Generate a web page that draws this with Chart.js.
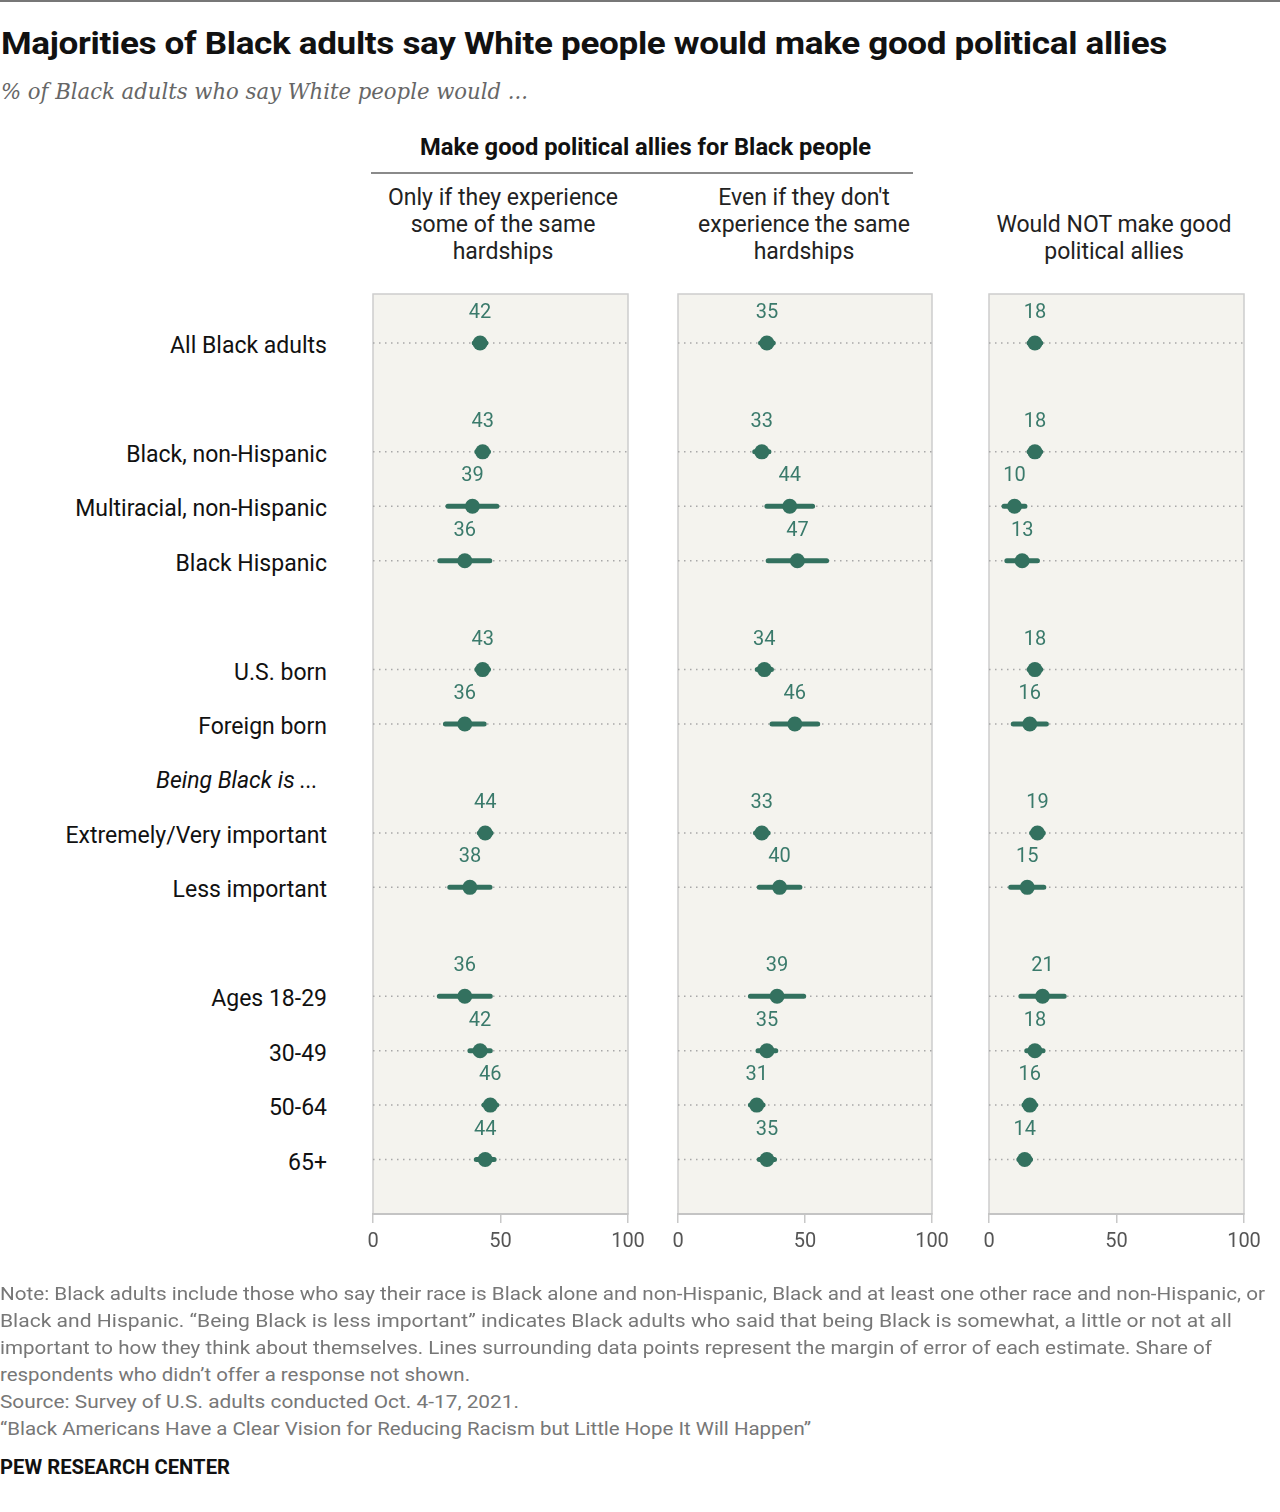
<!DOCTYPE html>
<html>
<head>
<meta charset="utf-8">
<script src="https://cdn.jsdelivr.net/npm/chart.js@4.4.1/dist/chart.umd.min.js"></script>
<style>
  body { margin: 0; width: 1280px; height: 1512px; background: #fff; position: relative; overflow: hidden;
         font-family: Roboto, "Noto Sans", sans-serif; color: #111; }
  .t { position: absolute; white-space: nowrap; transform-origin: left center; }
  .c { position: absolute; text-align: center; font-size: 23px; line-height: 27px; color: #222; }
  .row { position: absolute; right: 953px; font-size: 23px; line-height: 26px; white-space: nowrap; color: #111; }
  canvas { position: absolute; }
  .note { font-size: 18px; color: #777; line-height: 27px; }
</style>
</head>
<body>
<div style="position:absolute;left:0;top:0;width:1280px;height:2px;background:#777"></div>
<div class="t" id="title" data-w="1166" style="left:1px;top:25px;font-size:31px;font-weight:700;letter-spacing:-0.3px">Majorities of Black adults say White people would make good political allies</div>
<div class="t" id="sub" data-w="527" style="left:1px;top:78px;font-size:23px;font-style:italic;color:#666;font-family:'DejaVu Serif',serif">% of Black adults who say White people would ...</div>

<div class="t" data-w="451" style="left:420px;top:134px;font-size:23px;line-height:27px;font-weight:700;color:#111">Make good political allies for Black people</div>
<div style="position:absolute;left:371px;top:172px;width:542px;height:2px;background:#8a8a8a"></div>
<div class="c" style="left:353px;width:300px;top:184px">Only if they experience<br>some of the same<br>hardships</div>
<div class="c" style="left:654px;width:300px;top:184px">Even if they don't<br>experience the same<br>hardships</div>
<div class="c" style="left:964px;width:300px;top:211px">Would NOT make good<br>political allies</div>

<canvas id="p1" width="305" height="1000"></canvas>
<canvas id="p2" width="304" height="1000"></canvas>
<canvas id="p3" width="305" height="1000"></canvas>

<div class="t note" data-w="1265" style="left:0;top:1280px">Note: Black adults include those who say their race is Black alone and non-Hispanic, Black and at least one other race and non-Hispanic, or</div>
<div class="t note" data-w="1232" style="left:0;top:1307px">Black and Hispanic. “Being Black is less important” indicates Black adults who said that being Black is somewhat, a little or not at all</div>
<div class="t note" data-w="1212" style="left:0;top:1334px">important to how they think about themselves. Lines surrounding data points represent the margin of error of each estimate. Share of</div>
<div class="t note" data-w="470" style="left:0;top:1361px">respondents who didn’t offer a response not shown.</div>
<div class="t note" data-w="519" style="left:0;top:1388px">Source: Survey of U.S. adults conducted Oct. 4-17, 2021.</div>
<div class="t note" data-w="811" style="left:0;top:1415px">“Black Americans Have a Clear Vision for Reducing Racism but Little Hope It Will Happen”</div>
<div class="t" data-w="230" style="left:0;top:1455px;font-size:20px;font-weight:700;line-height:24px">PEW RESEARCH CENTER</div>

<script>
// rows, top to bottom ('' = spacer row)
const rowLabels = ['All Black adults', '', 'Black, non-Hispanic', 'Multiracial, non-Hispanic', 'Black Hispanic', '',
  'U.S. born', 'Foreign born', 'Being Black is ...', 'Extremely/Very important', 'Less important', '',
  'Ages 18-29', '30-49', '50-64', '65+'];

const onlyIfSame = [42, null, 43, 39, 36, null, 43, 36, null, 44, 38, null, 36, 42, 46, 44];
const evenIfNot  = [35, null, 33, 44, 47, null, 34, 46, null, 33, 40, null, 39, 35, 31, 35];
const wouldNot   = [18, null, 18, 10, 13, null, 18, 16, null, 19, 15, null, 21, 18, 16, 14];

// margins of error
const moeOnly = [2.3, null, 2.3, 9.6, 9.8, null, 2.3, 7.6, null, 2.3, 7.9, null, 10, 4, 2.5, 3.5];
const moeEven = [2.5, null, 2.8, 9, 11.5, null, 2.8, 9, null, 2.5, 8, null, 10.5, 3.5, 2.5, 3];
const moeNot  = [2.3, null, 2.3, 4.1, 6, null, 2.3, 6.5, null, 2.3, 6.5, null, 8.5, 3.2, 2.3, 2.3];

const xTicks = [0, 50, 100];

const dotColor = '#33715f';
const labelColor = '#3a7a6b';

const panelBg = {
  id: 'panelBg',
  beforeDraw(chart) {
    const { ctx, chartArea: a } = chart;
    ctx.save();
    ctx.fillStyle = '#f4f3ee';
    ctx.fillRect(a.left, a.top, a.width, a.height);
    ctx.strokeStyle = '#cdcdcd';
    ctx.lineWidth = 1.5;
    ctx.strokeRect(a.left, a.top, a.width, a.height);
    ctx.restore();
  }
};

const valueLabels = {
  id: 'valueLabels',
  afterDatasetsDraw(chart) {
    const { ctx } = chart;
    const meta = chart.getDatasetMeta(0);
    const data = chart.data.datasets[0].data;
    ctx.save();
    ctx.font = '20px Roboto';
    ctx.fillStyle = labelColor;
    ctx.textAlign = 'center';
    ctx.textBaseline = 'middle';
    meta.data.forEach((pt, i) => ctx.fillText(String(data[i].x), pt.x, pt.y - 30));
    ctx.restore();
  }
};

function makePanel(id, left, values, moe) {
  const pts = [], bars = [], grid = [];
  values.forEach((v, i) => {
    if (v === null) return;
    pts.push({ x: v, y: i });
    bars.push({ x: v - moe[i], y: i }, { x: v + moe[i], y: i }, { x: null, y: null });
    grid.push({ x: 0, y: i }, { x: 100, y: i }, { x: null, y: null });
  });
  const el = document.getElementById(id);
  el.style.left = (left - 25) + 'px';
  el.style.top = '284px';
  return new Chart(el.getContext('2d'), {
    type: 'scatter',
    data: {
      datasets: [
        { data: pts, pointRadius: 7.5, pointBackgroundColor: dotColor, pointBorderWidth: 0, order: 0 },
        { data: bars, showLine: true, spanGaps: false, borderColor: dotColor, borderWidth: 5,
          borderCapStyle: 'round', pointRadius: 0, order: 1 },
        { data: grid, showLine: true, spanGaps: false, borderColor: '#a8a8a8', borderWidth: 1.5,
          borderDash: [1.5, 4.5], pointRadius: 0, order: 2 }
      ]
    },
    options: {
      responsive: false,
      animation: false,
      events: [],
      layout: { padding: { left: 25, right: 25, top: 10, bottom: 30 } },
      plugins: { legend: { display: false }, tooltip: { enabled: false } },
      scales: {
        x: {
          type: 'linear', min: 0, max: 100,
          afterBuildTicks(scale) { scale.ticks = xTicks.map(v => ({ value: v })); },
          afterFit(scale) { scale.height = 40; },
          border: { display: true, color: '#c4c4c4', width: 2 },
          grid: { drawOnChartArea: false, drawTicks: true, tickLength: 9, color: '#c8c8c8', lineWidth: 1.5 },
          ticks: { padding: 7, color: '#555', font: { family: 'Roboto', size: 20 }, maxRotation: 0 }
        },
        y: { type: 'linear', display: false, min: -0.9, max: 16.0, reverse: true }
      }
    },
    plugins: [panelBg, valueLabels]
  });
}

const c1 = makePanel('p1', 373, onlyIfSame, moeOnly);
makePanel('p2', 678, evenIfNot, moeEven);
makePanel('p3', 989, wouldNot, moeNot);

// row labels placed with the first panel's y scale
const yScale = c1.scales.y;
rowLabels.forEach((lab, i) => {
  if (!lab) return;
  const d = document.createElement('div');
  d.className = 'row';
  d.textContent = lab;
  const y = 284 + yScale.getPixelForValue(i) + 3;
  if (i === 8) { d.style.fontStyle = 'italic'; d.style.right = '962px'; }
  d.style.top = (y - 13) + 'px';
  document.body.appendChild(d);
});

// squeeze/stretch a few long text lines to the widths seen in the picture
document.querySelectorAll('[data-w]').forEach(el => {
  const w = el.getBoundingClientRect().width;
  const target = +el.dataset.w;
  el.style.transform = 'scaleX(' + (target / w).toFixed(4) + ')';
});
</script>
</body>
</html>
